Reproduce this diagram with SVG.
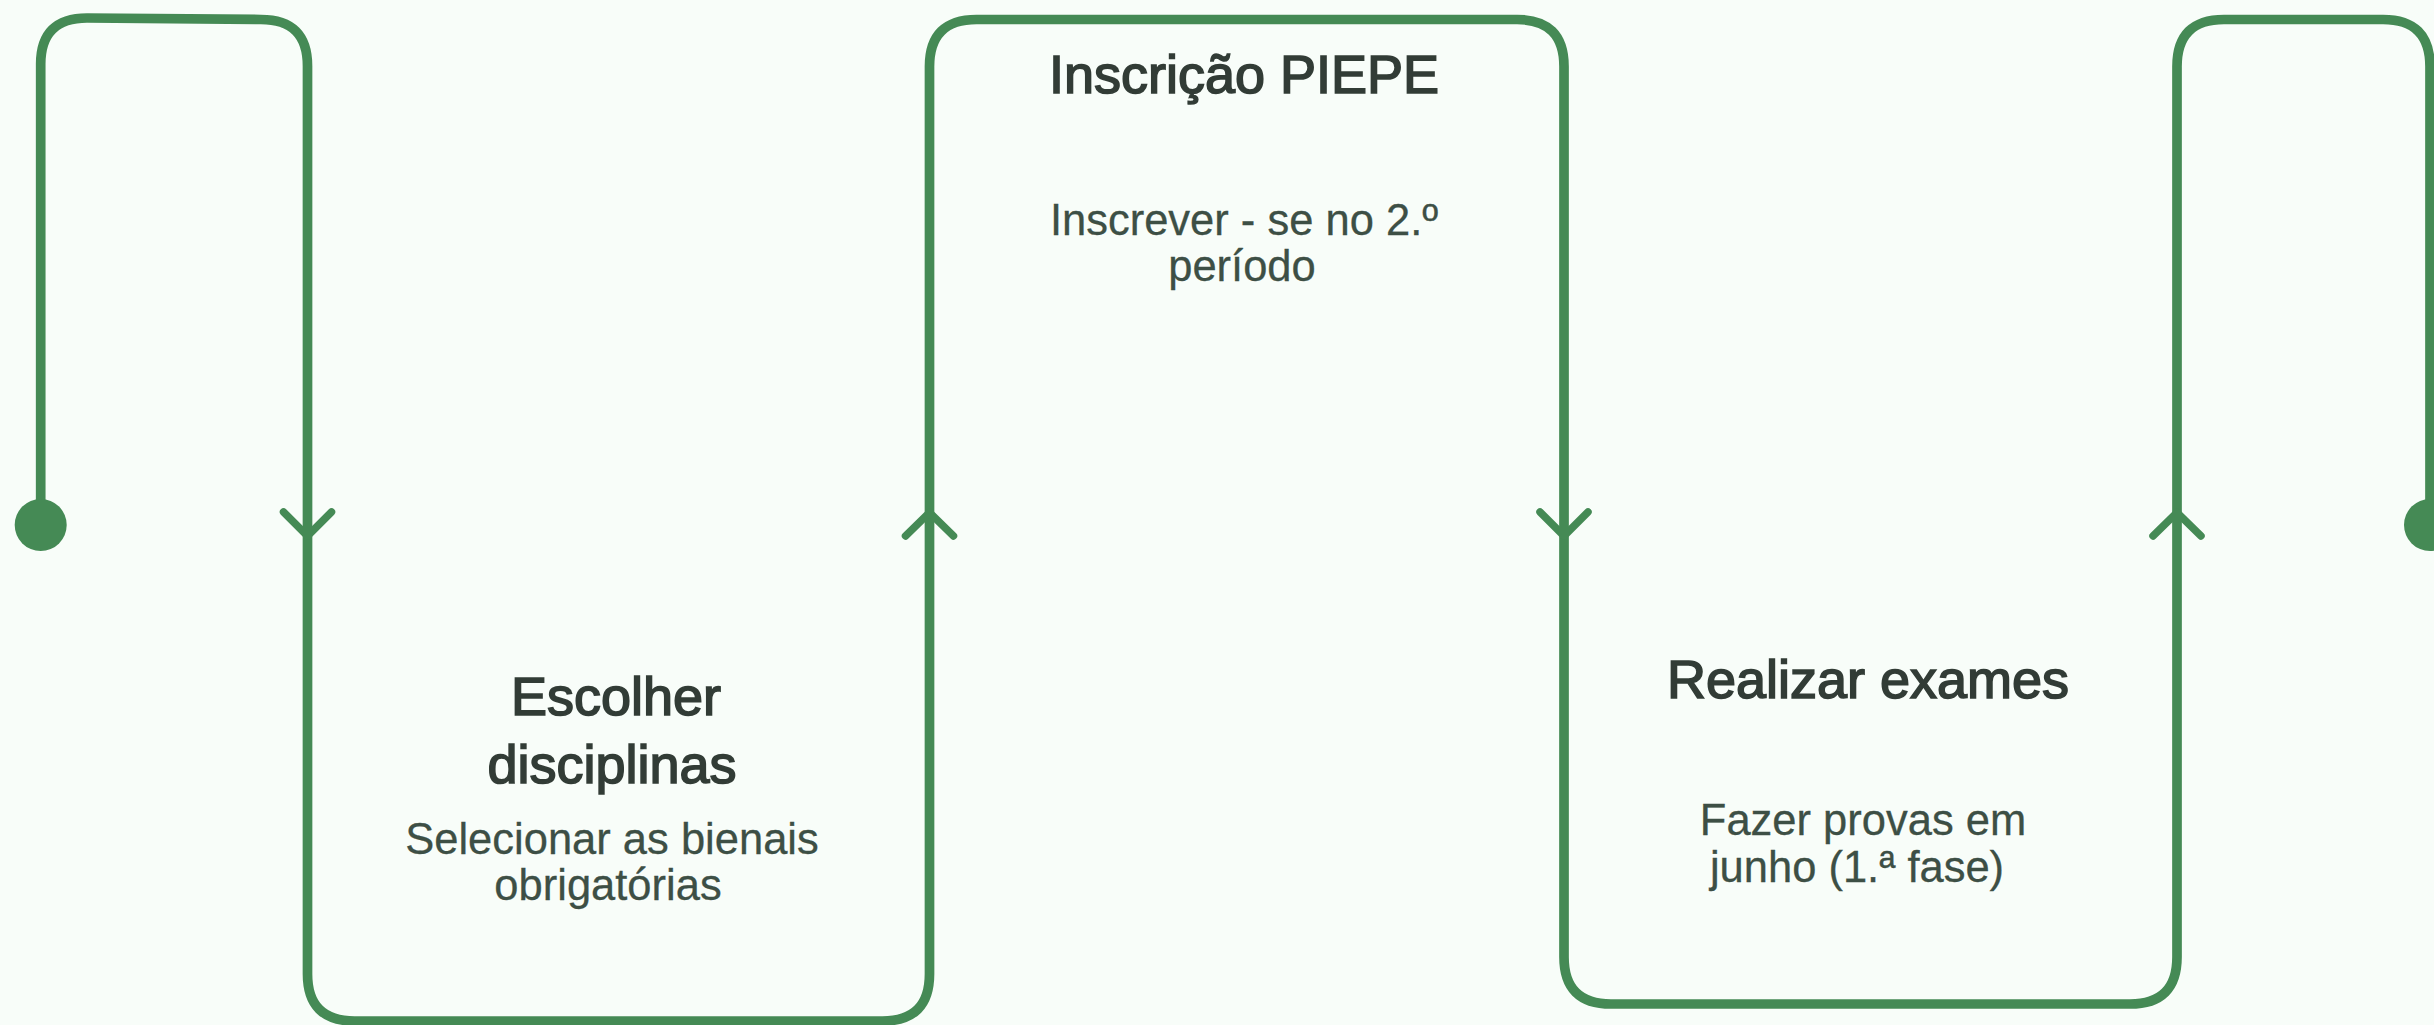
<svg xmlns="http://www.w3.org/2000/svg" width="2434" height="1025" viewBox="0 0 2434 1025">
  <style>
    .line { fill: none; stroke: #458a55; stroke-width: 9.7; stroke-linejoin: round; }
    .chev { fill: none; stroke: #458a55; stroke-width: 7.5; stroke-linecap: round; stroke-linejoin: round; }
    .dot { fill: #458a55; }
    .title { font-family: "Liberation Sans", Arial, sans-serif; font-size: 54px; fill: #323c36; stroke: #323c36; stroke-width: 1.6; text-anchor: middle; }
    .sub { font-family: "Liberation Sans", Arial, sans-serif; font-size: 43.5px; fill: #3d4f45; stroke: #3d4f45; stroke-width: 0.3; text-anchor: middle; }
  </style>
  <rect x="0" y="0" width="2434" height="1025" fill="#f8fdf9"/>

  <g id="connectors">
    <path class="line" d="M40.7,525 L40.7,64 Q40.7,18 87,18 L261,19.5 Q307.5,19.5 307.5,66 L307.5,974 Q307.5,1021 354.5,1021 L882.5,1021 Q929.5,1021 929.5,974 L929.5,66.5 Q929.5,19.5 976.5,19.5 L1517,19.5 Q1564,19.5 1564,66.5 L1564,957 Q1564,1004 1611,1004 L2130,1004 Q2177,1004 2177,957 L2177,66.5 Q2177,19.5 2224,19.5 L2383,19.5 Q2430,19.5 2430,66.5 L2430,525"/>
    <circle class="dot" cx="40.7" cy="525" r="26"/>
    <circle class="dot" cx="2430" cy="525" r="26"/>
    <polyline class="chev" points="283.5,512 307.5,536 331.5,512"/>
    <polyline class="chev" points="905.5,536 929.5,512.5 953.5,536"/>
    <polyline class="chev" points="1540,512 1564,536 1588,512"/>
    <polyline class="chev" points="2153,536 2177,512.5 2201,536"/>
  </g>

  <g id="node-escolher">
    <text class="title" x="616" y="715">Escolher</text>
    <text class="title" x="612" y="783">disciplinas</text>
    <text class="sub" x="612" y="854">Selecionar as bienais</text>
    <text class="sub" x="608" y="900">obrigatórias</text>
  </g>

  <g id="node-inscricao">
    <text class="title" x="1244" y="93">Inscrição PIEPE</text>
    <text class="sub" x="1244" y="235">Inscrever - se no 2.º</text>
    <text class="sub" x="1242" y="281">período</text>
  </g>

  <g id="node-exames">
    <text class="title" x="1868" y="698">Realizar exames</text>
    <text class="sub" x="1863" y="835">Fazer provas em</text>
    <text class="sub" x="1857" y="882">junho (1.ª fase)</text>
  </g>
</svg>
